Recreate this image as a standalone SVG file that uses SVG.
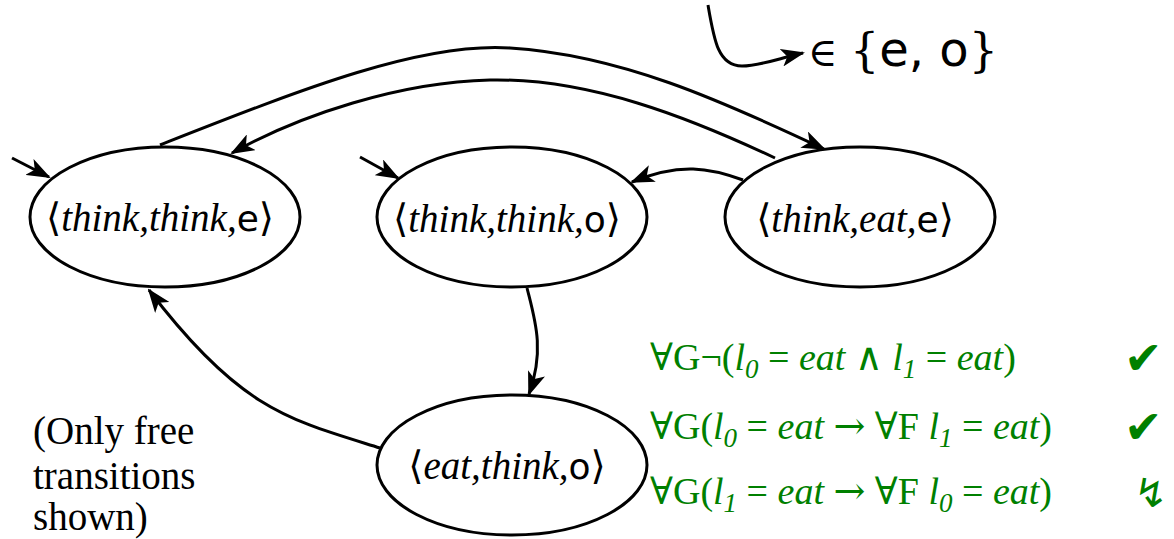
<svg xmlns="http://www.w3.org/2000/svg" width="1174" height="539" viewBox="0 0 1174 539">
<style>
.node{fill:#fff;stroke:#000;stroke-width:3}
.edge{fill:none;stroke:#000;stroke-width:3;marker-end:url(#arr)}
.lbl{font-family:"Liberation Serif","DejaVu Serif",serif;font-size:39px;fill:#000}
.it{font-family:"Liberation Serif",serif;font-style:italic}
.sans{font-family:"DejaVu Sans","Liberation Sans",sans-serif;font-style:normal;font-size:36px}
.br{font-family:"DejaVu Serif","Liberation Serif",serif;font-style:normal;font-weight:normal}
.note{font-family:"Liberation Serif",serif;font-size:39px;fill:#000}
.f{font-family:"Liberation Serif","DejaVu Serif",serif;font-size:38px;fill:#008000}
.sub{font-size:27px}
.op{font-family:"DejaVu Serif",serif;font-style:normal}
.sym{font-family:"DejaVu Sans",sans-serif;font-size:46px;fill:#008000}
</style>
<defs>
<marker id="arr" viewBox="0 0 24 18" refX="22" refY="9" markerWidth="24" markerHeight="18" markerUnits="userSpaceOnUse" orient="auto">
<path d="M0,0 L24,9 L0,18 L6,9 Z" fill="#000"/>
</marker>
</defs>

<g id="connectors">
<path class="edge" d="M12,158 L49,177"/>
<path class="edge" d="M360,157 L398,178"/>
<path class="edge" d="M160,145 C300,90 420,42 510,48 C620,55 720,100 824,149"/>
<path class="edge" d="M775,158 C690,118 590,78 490,80 C400,82 300,115 232,153"/>
<path class="edge" d="M743,180 C710,168 680,162 632,182"/>
<path class="edge" d="M527,288 C535,320 545,350 529,394"/>
<path class="edge" d="M380,448 C290,420 240,410 149,290"/>
<path class="edge" d="M708,5 C714,40 718,66 742,66 C760,66 780,58 803,53"/>
</g>

<g id="n1">
<ellipse class="node" cx="165" cy="217" rx="135" ry="70"/>
<text class="lbl" x="160" y="231" text-anchor="middle"><tspan class="br">⟨</tspan><tspan class="it">think,think,</tspan><tspan class="sans">e</tspan><tspan class="br">⟩</tspan></text>
</g>
<g id="n2">
<ellipse class="node" cx="512" cy="217" rx="135" ry="70"/>
<text class="lbl" x="507" y="232" text-anchor="middle"><tspan class="br">⟨</tspan><tspan class="it">think,think,</tspan><tspan class="sans">o</tspan><tspan class="br">⟩</tspan></text>
</g>
<g id="n3">
<ellipse class="node" cx="860" cy="217" rx="135" ry="70"/>
<text class="lbl" x="855" y="232" text-anchor="middle"><tspan class="br">⟨</tspan><tspan class="it">think,eat,</tspan><tspan class="sans">e</tspan><tspan class="br">⟩</tspan></text>
</g>
<g id="n4">
<ellipse class="node" cx="512" cy="465" rx="135" ry="70"/>
<text class="lbl" x="507" y="479" text-anchor="middle"><tspan class="br">⟨</tspan><tspan class="it">eat,think,</tspan><tspan class="sans">o</tspan><tspan class="br">⟩</tspan></text>
</g>

<g id="legend">
<text y="66" style="font-family:'DejaVu Sans',sans-serif;font-size:48px;fill:#000"><tspan x="808" style="font-family:'DejaVu Serif',serif;font-size:40px">∈</tspan><tspan x="850" style="font-family:'DejaVu Serif',serif;font-size:46px">{</tspan>e, o<tspan style="font-family:'DejaVu Serif',serif;font-size:46px">}</tspan></text>
</g>

<g id="note">
<text class="note" x="33" y="444">(Only free</text>
<text class="note" x="33" y="489">transitions</text>
<text class="note" x="33" y="530">shown)</text>
</g>

<g id="formulas">
<text class="f" x="650" y="370">∀G¬(<tspan class="it">l</tspan><tspan class="it sub" dy="8">0</tspan><tspan dy="-8"> = </tspan><tspan class="it">eat</tspan> <tspan class="op">∧</tspan> <tspan class="it">l</tspan><tspan class="it sub" dy="8">1</tspan><tspan dy="-8"> = </tspan><tspan class="it">eat</tspan>)</text>
<text class="f" x="650" y="439">∀G(<tspan class="it">l</tspan><tspan class="it sub" dy="8">0</tspan><tspan dy="-8"> = </tspan><tspan class="it">eat</tspan> <tspan class="op">→</tspan> ∀F <tspan class="it">l</tspan><tspan class="it sub" dy="8">1</tspan><tspan dy="-8"> = </tspan><tspan class="it">eat</tspan>)</text>
<text class="f" x="650" y="504">∀G(<tspan class="it">l</tspan><tspan class="it sub" dy="8">1</tspan><tspan dy="-8"> = </tspan><tspan class="it">eat</tspan> <tspan class="op">→</tspan> ∀F <tspan class="it">l</tspan><tspan class="it sub" dy="8">0</tspan><tspan dy="-8"> = </tspan><tspan class="it">eat</tspan>)</text>
<text class="sym" x="1124" y="374">✔</text>
<text class="sym" x="1124" y="443">✔</text>
<text class="sym" x="1134" y="507" style="font-size:40px">↯</text>
</g>
</svg>
